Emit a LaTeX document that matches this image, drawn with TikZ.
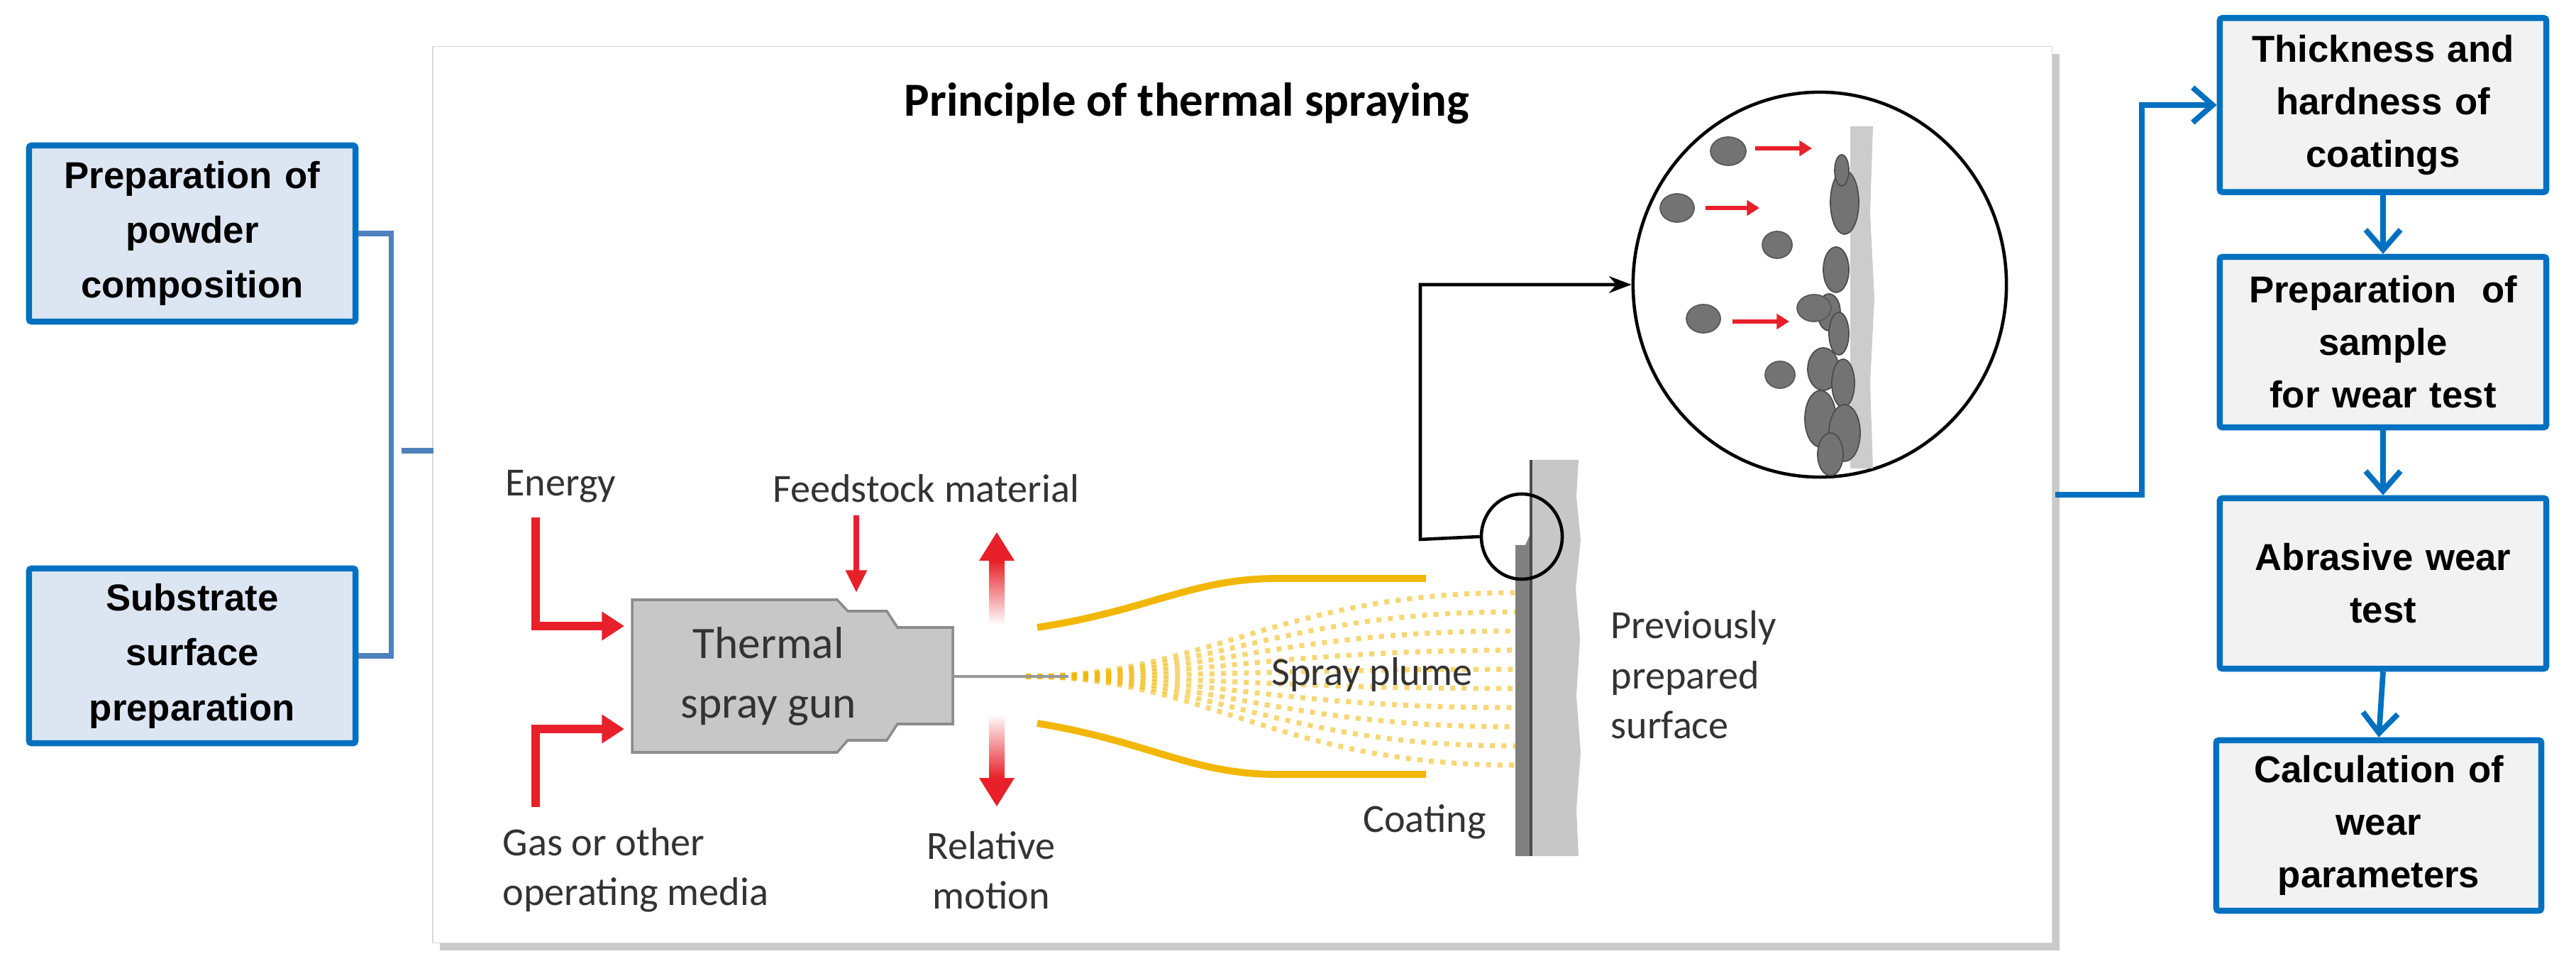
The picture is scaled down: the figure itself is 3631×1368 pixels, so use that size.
\documentclass[tikz,border=0pt]{standalone}
\usepackage{fontspec}
\setmainfont{Carlito}
\newfontfamily\boxfont{Liberation Sans}
\usetikzlibrary{arrows.meta,shadows,shapes.geometric}
\definecolor{bblue}{HTML}{0070C0}
\definecolor{brk}{HTML}{4F81BD}
\definecolor{lblue}{HTML}{DCE6F2}
\definecolor{lgray}{HTML}{F2F2F2}
\definecolor{sred}{HTML}{E8202A}
\definecolor{plume}{HTML}{F2B705}
\tikzset{
  lbox/.style={draw=bblue,line width=2.4pt,fill=lblue,rounded corners=1pt,text width=4.6cm,align=center,inner sep=0pt,
    font=\boxfont\bfseries\fontsize{15}{22}\selectfont},
  rbox/.style={draw=bblue,line width=2.4pt,fill=lgray,rounded corners=1pt,text width=4.6cm,align=center,inner sep=0pt,
    font=\boxfont\bfseries\fontsize{15}{21}\selectfont},
  lab/.style={font=\fontsize{16}{20}\selectfont,text=black!80,inner sep=0pt},
  redarr/.style={sred,line width=3.6pt,-{Triangle[length=9pt,width=11pt]}},
  barr/.style={bblue,line width=2.2pt,-{Straight Barb[length=8pt,width=14pt,line width=2.2pt]}},
  dots/.style={plume,opacity=.55,line width=2pt,dash pattern=on 2pt off 2.6pt},
  part/.style={fill=black!55,draw=black!65,line width=.5pt},
  smarr/.style={sred,line width=1.6pt,-{Triangle[length=5pt,width=6pt]}}
}
\begin{document}
\begin{tikzpicture}[x=0.01cm,y=-0.01cm]
\useasboundingbox (0,0) rectangle (3631,1368);
% main panel
\node[draw=black!15,fill=white,minimum width=22.81cm,minimum height=12.62cm,inner sep=0pt,
  drop shadow={shadow xshift=3pt,shadow yshift=-3pt,opacity=.35,fill=black!60}] (panel) at (1751,697) {};
\node[font=\bfseries\fontsize{19}{22}\selectfont] (title) at (1673,146) {Principle of thermal spraying};
% left boxes
\node[lbox,minimum height=2.48cm] (b1) at (271,329) {Preparation of\\powder\\composition};
\node[lbox,minimum height=2.46cm] (b2) at (271,924) {Substrate\\surface\\preparation};
\coordinate (bt) at (566,635);
\coordinate (bp) at (611,635);
\draw[brk,line width=2pt] (b1.east) -- ++(46,0) |- (b2.east);
\draw[brk,line width=2pt] (bt) -- (bp);
% right boxes
\node[rbox,minimum height=2.45cm] (r1) at (3359,148) {Thickness and\\hardness of\\coatings};
\node[rbox,minimum height=2.40cm] (r2) at (3359,482) {Preparation\ \ of\\sample\\for wear test};
\node[rbox,minimum height=2.40cm] (r3) at (3359,822) {Abrasive wear\\test};
\node[rbox,minimum height=2.40cm,text width=4.58cm] (r4) at (3353,1163) {Calculation of\\wear\\parameters};
\coordinate (pr) at (2897,697);
\draw[barr] (pr) -- (3019,697) |- (r1.west);
\draw[barr] (r1.south) -- (r2.north);
\draw[barr] (r2.south) -- (r3.north);
\draw[barr] (r3.south) -- (r4.north);
% plume
\foreach \e in {835,862,889,916,943,970,997,1024,1051,1078}
  \draw[dots] (1446,953) .. controls (1700,953) and (1800,\e) .. (2136,\e);
\draw[plume,line width=2.8pt] (1462,884) .. controls (1620,860) and (1680,815) .. (1800,815) -- (2010,815);
\draw[plume,line width=2.8pt] (1462,1019) .. controls (1620,1045) and (1680,1091) .. (1800,1091) -- (2010,1091);
% gun
\draw[black!45,fill=black!22,line width=1pt] (891,845) -- (1180,845) -- (1195,861) -- (1250,861) -- (1265,884) -- (1343,884)
  -- (1343,1020) -- (1265,1020) -- (1250,1043) -- (1195,1043) -- (1180,1060) -- (891,1060) -- cycle;
\node[lab,align=center,font=\fontsize{18}{24}\selectfont] (gun) at (1083,953) {Thermal\\spray gun};
\draw[black!40,line width=1pt] (1343,953) -- (1506,953);
% red arrows
\coordinate (e0) at (755,729); \coordinate (e1) at (755,882); \coordinate (e2) at (880,882);
\coordinate (g0) at (755,1137); \coordinate (g1) at (755,1027); \coordinate (g2) at (880,1027);
\draw[redarr] (e0) -- (e1) -- (e2);
\draw[redarr] (g0) -- (g1) -- (g2);
\coordinate (f0) at (1207,726); \coordinate (f1) at (1207,835);
\draw[sred,line width=2.4pt,-{Triangle[length=9pt,width=8pt]}] (f0) -- (f1);
\shade[top color=sred,bottom color=white] (1394,790) rectangle (1416,880);
\fill[sred] (1380,790) -- (1405,750) -- (1430,790) -- cycle;
\shade[top color=white,bottom color=sred] (1394,1006) rectangle (1416,1096);
\fill[sred] (1380,1096) -- (1405,1136) -- (1430,1096) -- cycle;
% labels
\node[lab] (energy) at (790,685) {Energy};
\node[lab] (feed) at (1305,688) {Feedstock material};
\node[lab,align=left,anchor=west] (gas) at (708,1226) {Gas or other\\operating media};
\node[lab,align=center] (rel) at (1397,1226) {Relative\\motion};
\node[lab] (sp) at (1934,950) {Spray plume};
\node[lab] (coat) at (2008,1158) {Coating};
\node[lab,align=left,anchor=west] (prev) at (2270,951) {Previously\\prepared\\surface};
% substrate
\fill[black!22] (2158,648) -- (2225,648) -- (2222,700) -- (2228,760) -- (2221,830) -- (2227,900) -- (2222,980) -- (2228,1060) -- (2222,1140) -- (2225,1206) -- (2158,1206) -- cycle;
\fill[black!50] (2136,768) -- (2150,768) -- (2158,750) -- (2158,1206) -- (2136,1206) -- cycle;
\draw[black!70,line width=1pt] (2158,648) -- (2158,1206);
% magnifier
\node[draw=black,line width=1.3pt,ellipse,minimum width=1.14cm,minimum height=1.2cm,inner sep=0pt] (sc) at (2145,756) {};
\node[draw=black,line width=1.3pt,ellipse,minimum width=5.26cm,minimum height=5.42cm,inner sep=0pt] (bc) at (2565,401) {};
\begin{scope}
\clip (2565,401) ellipse [x radius=262,y radius=270];
\fill[black!20] (2608,178) -- (2640,178) -- (2636,300) -- (2642,420) -- (2636,540) -- (2640,660) -- (2608,660) -- cycle;
\foreach \x/\y/\a/\b in {2600/285/20/45,2596/240/10/22,2588/380/18/32,2578/440/16/26,2592/470/14/30,2570/520/22/30,2598/540/16/34,2566/590/22/40,2600/610/22/40,2580/640/18/30}
  \fill[black!55,draw=black!70,line width=.5pt] (\x,\y) ellipse [x radius=\a,y radius=\b];
\end{scope}
\fill[part] (2436,213) ellipse [x radius=25,y radius=20];
\fill[part] (2364,293) ellipse [x radius=24,y radius=20];
\fill[part] (2505,345) ellipse [x radius=21,y radius=19];
\fill[part] (2401,449) ellipse [x radius=24,y radius=20];
\fill[part] (2557,434) ellipse [x radius=24,y radius=19];
\fill[part] (2509,528) ellipse [x radius=21,y radius=19];
\coordinate (a1) at (2474,209); \coordinate (a2) at (2554,209);
\coordinate (a3) at (2404,293); \coordinate (a4) at (2480,293);
\coordinate (a5) at (2442,453); \coordinate (a6) at (2522,453);
\draw[smarr] (a1) -- (a2);
\draw[smarr] (a3) -- (a4);
\draw[smarr] (a5) -- (a6);
\coordinate (k1) at (2002,760);
\draw[black,line width=1.3pt,-{Stealth[length=9pt]}] (sc.west) -- (k1) |- (bc.west);
\end{tikzpicture}
\end{document}
